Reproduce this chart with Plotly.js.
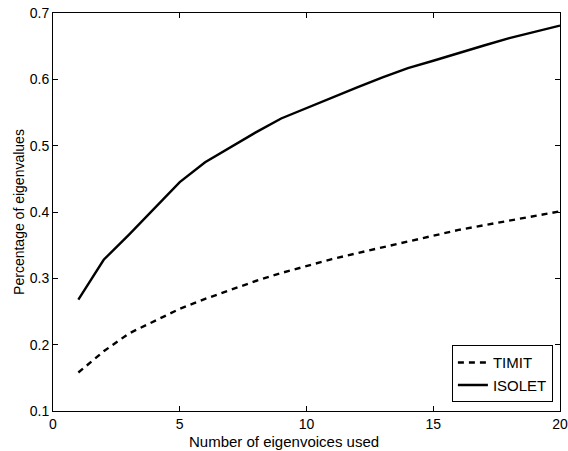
<!DOCTYPE html>
<html>
<head>
<meta charset="utf-8">
<script src="https://cdn.plot.ly/plotly-3.0.1.min.js"></script>
<style>html,body{margin:0;padding:0;background:#fff;}#chart{width:568px;height:451px;}</style>
</head>
<body>
<div id="chart"></div>
<script>
const eigenvoices = [1,2,3,4,5,6,7,8,9,10,11,12,13,14,15,16,17,18,19,20];
const timit = [0.158,0.190,0.217,0.236,0.254,0.269,0.283,0.296,0.308,0.319,0.329,0.338,0.347,0.356,0.365,0.373,0.380,0.387,0.394,0.401];
const isolet = [0.268,0.328,0.366,0.406,0.445,0.475,0.498,0.520,0.541,0.557,0.572,0.588,0.603,0.617,0.628,0.640,0.651,0.662,0.672,0.681];
const xTicks = [0,5,10,15,20];
const yTicks = [0.1,0.2,0.3,0.4,0.5,0.6,0.7];
const xTitle = 'Number of eigenvoices used';
const yTitle = 'Percentage of eigenvalues';

const font = {family: 'Liberation Sans, Arial, sans-serif', size: 14, color: '#000'};
const traces = [
  {x: eigenvoices, y: timit, name: 'TIMIT', mode: 'lines', line: {color: '#000', width: 2.4, dash: '6px,5px'}},
  {x: eigenvoices, y: isolet, name: 'ISOLET', mode: 'lines', line: {color: '#000', width: 2.4}}
];
const axisCommon = {
  showgrid: false, zeroline: false, showline: true, linecolor: '#000', linewidth: 1,
  mirror: 'allticks', ticks: 'inside', ticklen: 5, tickcolor: '#000', tickwidth: 1,
  tickfont: font
};
const layout = {
  width: 568, height: 451,
  margin: {l: 53, r: 8, t: 13, b: 40},
  paper_bgcolor: '#fff', plot_bgcolor: '#fff',
  font: font,
  showlegend: true,
  legend: {x: 0.986, y: 0.022, xanchor: 'right', yanchor: 'bottom', bordercolor: '#000', borderwidth: 1,
           bgcolor: '#fff', font: {family: font.family, size: 15, color: '#000'}, tracegroupgap: 0, itemwidth: 30},
  xaxis: Object.assign({}, axisCommon, {range: [0, 20], tickvals: xTicks, ticktext: xTicks.map(String)}),
  yaxis: Object.assign({}, axisCommon, {range: [0.1, 0.7], tickvals: yTicks, ticktext: yTicks.map(v => v.toFixed(1)),
          title: {text: yTitle, font: font, standoff: 1}}),
  annotations: [
    {text: xTitle, xref: 'paper', yref: 'paper', x: 0.456, y: -0.053, xanchor: 'center', yanchor: 'top',
     showarrow: false, borderpad: 0, font: {family: font.family, size: 15, color: '#000'}}
  ]
};
Plotly.newPlot('chart', traces, layout, {displayModeBar: false, staticPlot: true});
</script>
</body>
</html>
